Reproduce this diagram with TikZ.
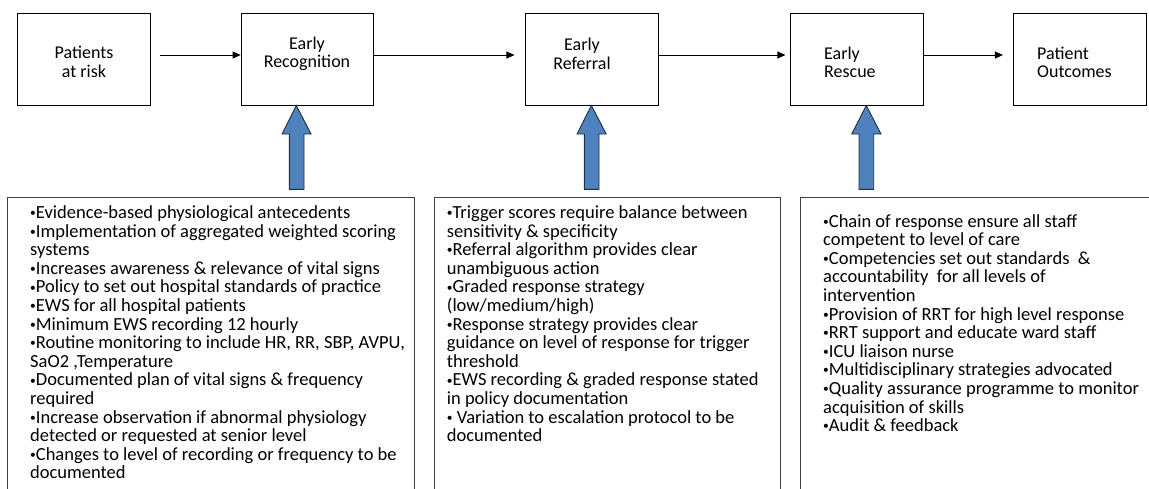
\documentclass[tikz,border=0pt]{standalone}
\usepackage{fontspec}
\usepackage{graphicx}
\setmainfont{Carlito}
\usetikzlibrary{arrows.meta}
\definecolor{blockblue}{HTML}{4F81BD}
\definecolor{blockedge}{HTML}{1F2F45}
\newcommand{\blt}{\raisebox{0.22ex}{\scalebox{0.62}{•}}}
\tikzset{
  topbox/.style={draw=black, line width=0.9pt, minimum width=132.6pt, minimum height=92.3pt, inner sep=0pt},
  toptext/.style={inner sep=0pt, font=\fontsize{18}{18.6}\selectfont},
  bottombox/.style={draw=black!75, line width=1pt},
  listtext/.style={inner sep=0pt, anchor=north west, align=left, font=\fontsize{18.5}{18.6}\selectfont},
  flow/.style={draw=black, line width=0.9pt, -{Triangle[length=8pt,width=7pt]}},
  blockarrow/.style={fill=blockblue, draw=blockedge, line width=0.9pt, line join=miter}
}
\begin{document}
\begin{tikzpicture}[x=1pt,y=-1pt]
\useasboundingbox (0,0) rectangle (1149,488);
\clip (0,0) rectangle (1149,488);
% top boxes
\node[topbox] (b1) at (83.8,59.2) {};
\node[topbox] (b2) at (307.4,59.2) {};
\node[topbox] (b3) at (592.2,59.2) {};
\node[topbox] (b4) at (856.7,59.2) {};
\node[topbox] (b5) at (1080.2,59.2) {};
% top texts
\node[toptext, align=center] (t1) at (84,62) {Patients\\at risk};
\node[toptext, align=center] (t2) at (307,53.8) {Early\\Recognition};
\node[toptext, align=center] (t3) at (582,53.8) {Early\\Referral};
\node[toptext, align=left, anchor=west] (t4) at (824,62.3) {Early\\Rescue};
\node[toptext, align=left, anchor=west] (t5) at (1037,62.3) {Patient\\Outcomes};
% flow arrows
\draw[flow, shorten <=9.5pt] ([yshift=4.2pt]b1.east) -- ([yshift=4.2pt]b2.west);
\draw[flow, shorten >=11pt] ([yshift=4.2pt]b2.east) -- ([yshift=4.2pt]b3.west);
\draw[flow, shorten >=4.5pt] ([yshift=4.2pt]b3.east) -- ([yshift=4.2pt]b4.west);
\draw[flow, shorten >=10.5pt] ([yshift=4.2pt]b4.east) -- ([yshift=4.2pt]b5.west);
% block arrows
\draw[blockarrow] (296.3,105.5) -- (311.1,134) -- (304,134) -- (304,189.3) -- (289.3,189.3) -- (289.3,134) -- (282,134) -- cycle;
\draw[blockarrow] (591.4,105.5) -- (606.2,134) -- (599,134) -- (599,189.3) -- (584.3,189.3) -- (584.3,134) -- (577,134) -- cycle;
\draw[blockarrow] (866.3,105.5) -- (881,134) -- (873.7,134) -- (873.7,189.3) -- (859,189.3) -- (859,134) -- (851.7,134) -- cycle;
% bottom boxes
\draw[bottombox] (7.5,500) -- (7.5,197.5) -- (414,197.5) -- (414,500);
\draw[bottombox] (434.7,500) -- (434.7,197.5) -- (780,197.5) -- (780,500);
\draw[bottombox] (800.7,500) -- (800.7,197.5) -- (1160,197.5);
% bottom texts
\node[listtext] (l1) at (30,205.5) {%
\blt Evidence-based physiological antecedents\\
\blt Implementation of aggregated weighted scoring\\
systems\\
\blt Increases awareness \& relevance of vital signs\\
\blt Policy to set out hospital standards of practice\\
\blt EWS for all hospital patients\\
\blt Minimum EWS recording 12 hourly\\
\blt Routine monitoring to include HR, RR, SBP, AVPU,\\
SaO2 ,Temperature\\
\blt Documented plan of vital signs \& frequency\\
required\\
\blt Increase observation if abnormal physiology\\
detected or requested at senior level\\
\blt Changes to level of recording or frequency to be\\
documented};
\node[listtext] (l2) at (446.7,205.5) {%
\blt Trigger scores require balance between\\
sensitivity \& specificity\\
\blt Referral algorithm provides clear\\
unambiguous action\\
\blt Graded response strategy\\
(low/medium/high)\\
\blt Response strategy provides clear\\
guidance on level of response for trigger\\
threshold\\
\blt EWS recording \& graded response stated\\
in policy documentation\\
\blt{} Variation to escalation protocol to be\\
documented};
\node[listtext] (l3) at (823,214) {%
\blt Chain of response ensure all staff\\
competent to level of care\\
\blt Competencies set out standards~ \&\\
accountability~ for all levels of\\
intervention\\
\blt Provision of RRT for high level response\\
\blt RRT support and educate ward staff\\
\blt ICU liaison nurse\\
\blt Multidisciplinary strategies advocated\\
\blt Quality assurance programme to monitor\\
acquisition of skills\\
\blt Audit \& feedback};
\end{tikzpicture}
\end{document}
